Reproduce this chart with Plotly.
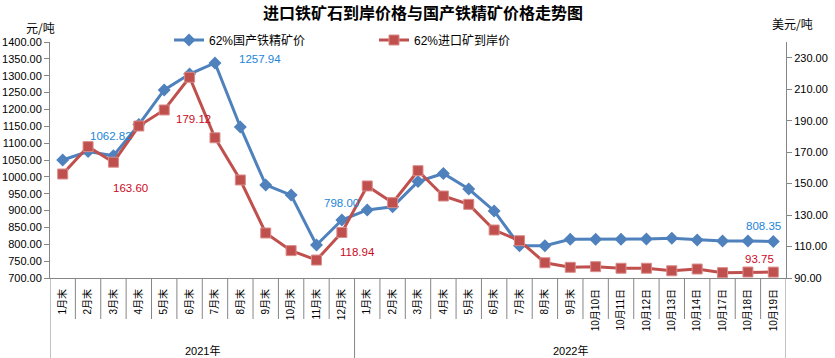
import plotly.graph_objects as go

# ---- data ----
years = ["2021年", "2022年"]
year_counts = [12, 17]
labels = ["1月末", "2月末", "3月末", "4月末", "5月末", "6月末", "7月末", "8月末", "9月末",
          "10月末", "11月末", "12月末",
          "1月末", "2月末", "3月末", "4月末", "5月末", "6月末", "7月末", "8月末", "9月末",
          "10月10日", "10月11日", "10月12日", "10月13日", "10月14日", "10月17日", "10月18日", "10月19日"]
domestic = [1050, 1075, 1062.82, 1155, 1257.94, 1305, 1338, 1148, 976, 946, 798.00, 872,
            902, 911, 986, 1010, 964, 899, 796, 796, 815, 815, 815, 816, 818, 813, 810, 810, 808.35]
imported = [156.1, 173.5, 163.60, 186.6, 196.8, 217.6, 179.12, 152.3, 118.6, 107.4, 101.4, 118.94,
            148.5, 137.9, 158.2, 142.1, 136.8, 120.5, 113.7, 99.7, 96.8, 97.2, 96.2, 96.2, 94.6, 95.7,
            93.4, 93.8, 93.75]
left_ticks = list(range(700, 1401, 50))
right_ticks = list(range(90, 231, 20))

BLUE = "#4F81BD"
RED = "#C0504D"
LBLUE = "#1C85D8"
LRED = "#CC0A1E"
GRAY = "#868686"
FONT = "Liberation Sans, Noto Sans CJK SC, sans-serif"
CJK = "Noto Sans CJK SC, sans-serif"

W, H = 835, 358
ML, MR, MT, MB = 50, 49, 42, 80
PW, PH = W - ML - MR, H - MT - MB

n = len(labels)
idx = list(range(n))

fig = go.Figure()
fig.add_trace(go.Scatter(
    x=idx, y=domestic, name="62%国产铁精矿价", mode="lines+markers",
    line=dict(color=BLUE, width=3), marker=dict(symbol="diamond", size=10, color=BLUE),
    yaxis="y"))
fig.add_trace(go.Scatter(
    x=idx, y=imported, name="62%进口矿到岸价", mode="lines+markers",
    line=dict(color=RED, width=3),
    marker=dict(symbol="square", size=10, color=RED, line=dict(color="#D98C8A", width=1)),
    yaxis="y2"))

# value labels (text, index, series values, axis, xshift, yshift, colour)
notes = [
    ("1062.82", 2, domestic, "y", -2, 20, LBLUE),
    ("163.60", 2, imported, "y2", 17, -26, LRED),
    ("179.12", 6, imported, "y2", -21, 19, LRED),
    ("1257.94", 4, domestic, "y", 96, 31, LBLUE),
    ("798.00", 10, domestic, "y", 25, 42, LBLUE),
    ("118.94", 11, imported, "y2", 16, -20, LRED),
    ("808.35", 28, domestic, "y", -10, 15, LBLUE),
    ("93.75", 28, imported, "y2", -14, 13, LRED),
]
for txt, k, ser, ax, dx, dy, col in notes:
    fig.add_annotation(x=k, xref="x", y=ser[k], yref=ax, text=txt, showarrow=False,
                       xshift=dx, yshift=dy, font=dict(size=11.5, color=col, family=FONT))

def pyp(py):
    """pixel row -> paper y"""
    return 1 - (py - MT) / PH

def pxp(px):
    return (px - ML) / PW

# title and unit labels
fig.add_annotation(xref="paper", x=pxp(423), yref="paper", y=pyp(11.5),
                   text="<b>进口铁矿石到岸价格与国产铁精矿价格走势图</b>",
                   showarrow=False, xanchor="center", yanchor="middle",
                   font=dict(size=16, color="black", family=CJK))
fig.add_annotation(xref="paper", x=pxp(40), yref="paper", y=pyp(28), text="元/吨",
                   showarrow=False, xanchor="center", yanchor="middle",
                   font=dict(size=12, color="black", family=CJK))
fig.add_annotation(xref="paper", x=pxp(792), yref="paper", y=pyp(24), text="美元/吨",
                   showarrow=False, xanchor="center", yanchor="middle",
                   font=dict(size=12, color="black", family=CJK))

# category boundary ticks and year dividers / labels
tick_depth = 41 / PH
full_depth = MB / PH
starts = [0]
for c in year_counts:
    starts.append(starts[-1] + c)
for b in range(n + 1):
    deep = b in starts
    fig.add_shape(type="line", xref="x", yref="paper", x0=b - 0.5, x1=b - 0.5,
                  y0=0, y1=-(full_depth if deep else tick_depth),
                  line=dict(color=GRAY, width=1), layer="above")
for yname, s, c in zip(years, starts[:-1], year_counts):
    fig.add_annotation(x=s + (c - 1) / 2, xref="x", yref="paper", y=pyp(350), text=yname,
                       showarrow=False, xanchor="center", yanchor="middle",
                       font=dict(size=11, color="black", family=FONT))

fig.update_layout(
    width=W, height=H,
    margin=dict(l=ML, r=MR, t=MT, b=MB, autoexpand=False),
    paper_bgcolor="white", plot_bgcolor="white",
    showlegend=True,
    legend=dict(orientation="h", x=pxp(169), xanchor="left", y=pyp(40), yanchor="middle",
                font=dict(size=12, color="black", family=FONT), bgcolor="rgba(0,0,0,0)",
                entrywidth=160, itemwidth=30),
    xaxis=dict(range=[-0.5, n - 0.5], tickvals=idx, ticktext=labels, showline=True,
               linecolor=GRAY, linewidth=1, ticks="", tickangle=-90, ticklabelstandoff=6,
               tickfont=dict(size=10, color="black", family=FONT), automargin=False,
               showgrid=False, zeroline=False),
    yaxis=dict(range=[700, 1400], tickvals=left_ticks, tickformat=".2f", showline=True,
               linecolor=GRAY, linewidth=1, ticks="outside", ticklen=5, tickcolor=GRAY,
               tickfont=dict(size=11, color="black", family=FONT), showgrid=False,
               zeroline=False, automargin=False),
    yaxis2=dict(range=[90, 240], tickvals=right_ticks, tickformat=".2f", overlaying="y",
                side="right", showline=True, linecolor=GRAY, linewidth=1, ticks="outside",
                ticklen=5, tickcolor=GRAY, automargin=False,
                tickfont=dict(size=11, color="black", family=FONT), showgrid=False, zeroline=False),
)

fig.write_html("out.html", config={"displayModeBar": False},
               post_script="document.body.style.margin='0';document.body.style.overflow='hidden';")
